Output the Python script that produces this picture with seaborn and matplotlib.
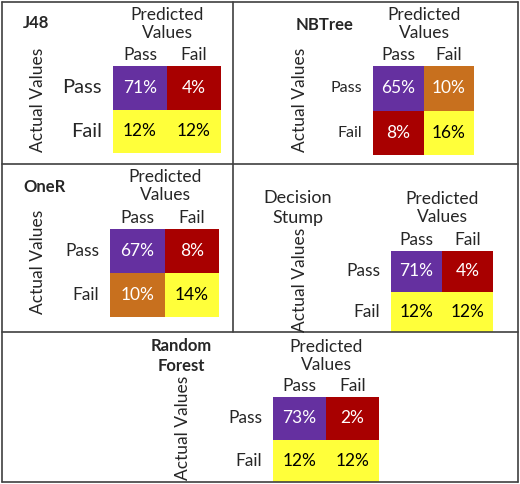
import numpy as np
import matplotlib
matplotlib.use("Agg")
import matplotlib.pyplot as plt
from matplotlib.colors import ListedColormap
from matplotlib.lines import Line2D
import seaborn as sns

sns.set_theme(style="white")
plt.rcParams['font.family'] = ['Lato', 'DejaVu Sans']

labels = ["Pass", "Fail"]
models = ["J48", "NBTree", "OneR", "Decision\nStump", "Random\nForest"]
values = [
    [[71, 4], [12, 12]],
    [[65, 10], [8, 16]],
    [[67, 8], [10, 14]],
    [[71, 4], [12, 12]],
    [[73, 2], [12, 12]],
]
# colour code per cell: 0 purple, 1 dark red, 2 orange, 3 yellow
codes = [
    [[0, 1], [3, 3]],
    [[0, 2], [1, 3]],
    [[0, 1], [2, 3]],
    [[0, 1], [3, 3]],
    [[0, 1], [3, 3]],
]
palette = ["#6530A0", "#A80000", "#C8701E", "#FFFF3A"]
cmap = ListedColormap(palette)

W, H = 520, 484
fig = plt.figure(figsize=(W / 100, H / 100), dpi=100)

# pixel layout: heatmap box, title, predicted label, actual label
layout = [
    dict(box=(113, 66, 221, 153), title=(36, 23), bold=True, pred=(167, 24), act=(38, 100), fs=14.5, tfs=12),
    dict(box=(373, 66, 474, 155), title=(325, 25), bold=True, pred=(424, 24), act=(300, 100), fs=11.5, tfs=12),
    dict(box=(110, 229, 219, 317), title=(45, 187), bold=True, pred=(165, 186), act=(38, 262), fs=12.5, tfs=12),
    dict(box=(391, 251, 493, 332), title=(298, 208), bold=False, pred=(442, 208), act=(300, 280), fs=12.5, tfs=13),
    dict(box=(273, 397, 379, 482), title=(181, 356), bold=True, pred=(326, 356), act=(183, 428), fs=12.5, tfs=12),
]


def px(x, y):
    return x / W, 1 - y / H


for name, vals, code, lay in zip(models, values, codes, layout):
    x0, y0, x1, y1 = lay["box"]
    ax = fig.add_axes([x0 / W, 1 - y1 / H, (x1 - x0) / W, (y1 - y0) / H])
    annot = np.array([[f"{v}%" for v in row] for row in vals])
    sns.heatmap(np.array(code), ax=ax, cmap=cmap, vmin=-0.5, vmax=3.5, cbar=False,
                annot=annot, fmt="", xticklabels=labels, yticklabels=labels,
                annot_kws={"fontsize": 12.5})
    for t, c in zip(ax.texts, np.array(code).ravel()):
        t.set_color("black" if c == 3 else "white")
    ax.xaxis.tick_top()
    ax.tick_params(length=0, labelsize=12.5, pad=2)
    ax.tick_params(axis="y", labelsize=lay["fs"], rotation=0, pad=8)
    fig.text(*px(*lay["title"]), name, ha="center", va="center", fontsize=lay["tfs"],
             fontweight="bold" if lay["bold"] else "normal", linespacing=1.3)
    fig.text(*px(*lay["pred"]), "Predicted\nValues", ha="center", va="center",
             fontsize=12.5, linespacing=1.2)
    fig.text(*px(*lay["act"]), "Actual Values", ha="center", va="center",
             fontsize=12.5, rotation=90)

# panel borders
segs = [((2, 2), (518, 2)), ((2, 482), (518, 482)), ((2, 2), (2, 482)),
        ((518, 2), (518, 482)), ((233, 2), (233, 332)), ((2, 164), (518, 164)),
        ((2, 332), (518, 332))]
for (xa, ya), (xb, yb) in segs:
    ax0, ay0 = px(xa, ya)
    ax1, ay1 = px(xb, yb)
    fig.add_artist(Line2D([ax0, ax1], [ay0, ay1], color="#404040", lw=1.2))

fig.savefig("out.png", dpi=100)
